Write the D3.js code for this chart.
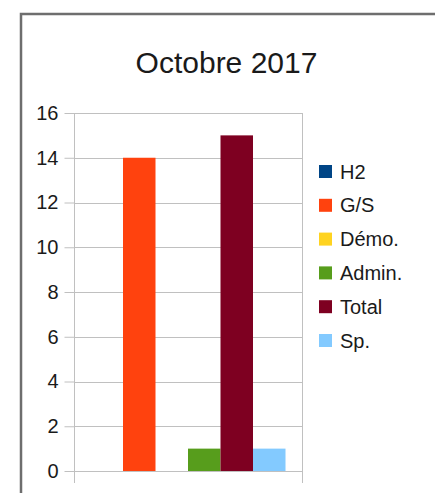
<!DOCTYPE html>
<html>
<head>
<meta charset="utf-8">
<script src="https://cdn.jsdelivr.net/npm/d3@7"></script>
<style>
  html, body { margin: 0; padding: 0; background: #fff; }
  svg { display: block; font-family: "Liberation Sans", Arial, sans-serif; }
</style>
</head>
<body>
<svg id="chart" width="435" height="493"></svg>
<script>
// Monthly counts per activity type
const title = "Octobre 2017";
const categories = [""];
const seriesNames = ["H2", "G/S", "Démo.", "Admin.", "Total", "Sp."];
const seriesValues = [0, 14, 0, 1, 15, 1];
const seriesColors = ["#004586", "#ff420e", "#ffd320", "#579d1c", "#7e0021", "#83caff"];
const yTicks = [0, 2, 4, 6, 8, 10, 12, 14, 16];

const svg = d3.select("#chart");

// Outer frame of the chart object
svg.append("rect")
  .attr("x", 21).attr("y", 14)
  .attr("width", 440).attr("height", 500)
  .attr("fill", "#fff")
  .attr("stroke", "#6e6e6e")
  .attr("stroke-width", 2.5);

// Title
svg.append("text")
  .attr("x", 226.5).attr("y", 73)
  .attr("text-anchor", "middle")
  .attr("font-size", 30)
  .attr("fill", "#1a1a1a")
  .text(title);

const plot = { left: 74, right: 302, top: 113, bottom: 471 };

const y = d3.scaleLinear().domain([0, 16]).range([plot.bottom, plot.top]);

const x0 = d3.scaleBand()
  .domain(categories)
  .range([plot.left, plot.right])
  .paddingOuter(0.0846)
  .paddingInner(0);

const x1 = d3.scaleBand()
  .domain(seriesNames)
  .range([0, x0.bandwidth()])
  .padding(0);

const gridColor = "#c0c0c0";

// Horizontal gridlines
svg.append("g")
  .selectAll("line")
  .data(yTicks)
  .join("line")
  .attr("x1", plot.left).attr("x2", plot.right)
  .attr("y1", d => Math.round(y(d)) + 0.5)
  .attr("y2", d => Math.round(y(d)) + 0.5)
  .attr("stroke", gridColor)
  .attr("stroke-width", 1);

// Category boundary lines, extending below the baseline as ticks
svg.append("g")
  .selectAll("line")
  .data(x0.range())
  .join("line")
  .attr("x1", d => d + 0.5).attr("x2", d => d + 0.5)
  .attr("y1", y(16)).attr("y2", y(0) + 12)
  .attr("stroke", gridColor)
  .attr("stroke-width", 1);

// Bars
svg.append("g")
  .selectAll("rect")
  .data(seriesNames.map((n, i) => ({ name: n, value: seriesValues[i], color: seriesColors[i] })))
  .join("rect")
  .attr("x", d => x0(categories[0]) + x1(d.name))
  .attr("y", d => y(d.value))
  .attr("width", x1.bandwidth())
  .attr("height", d => y(0) - y(d.value))
  .attr("fill", d => d.color);

// Y axis
const yAxis = svg.append("g")
  .attr("transform", `translate(${plot.left + 0.5},0)`)
  .call(d3.axisLeft(y).tickValues(yTicks).tickSize(10).tickSizeOuter(0).tickPadding(6));
yAxis.select(".domain").remove();
yAxis.selectAll(".tick line").attr("stroke", gridColor);
yAxis.selectAll(".tick text")
  .attr("font-size", 20)
  .attr("font-family", "Liberation Sans, Arial, sans-serif")
  .attr("fill", "#1a1a1a");

// Legend
const legend = svg.append("g")
  .selectAll("g")
  .data(seriesNames)
  .join("g")
  .attr("transform", (d, i) => `translate(319, ${171.5 + i * 33.8})`);
legend.append("rect")
  .attr("x", 0).attr("y", -6.5)
  .attr("width", 13).attr("height", 13)
  .attr("fill", (d, i) => seriesColors[i]);
legend.append("text")
  .attr("x", 21).attr("y", 7)
  .attr("font-size", 20)
  .attr("fill", "#1a1a1a")
  .text(d => d);
</script>
</body>
</html>
